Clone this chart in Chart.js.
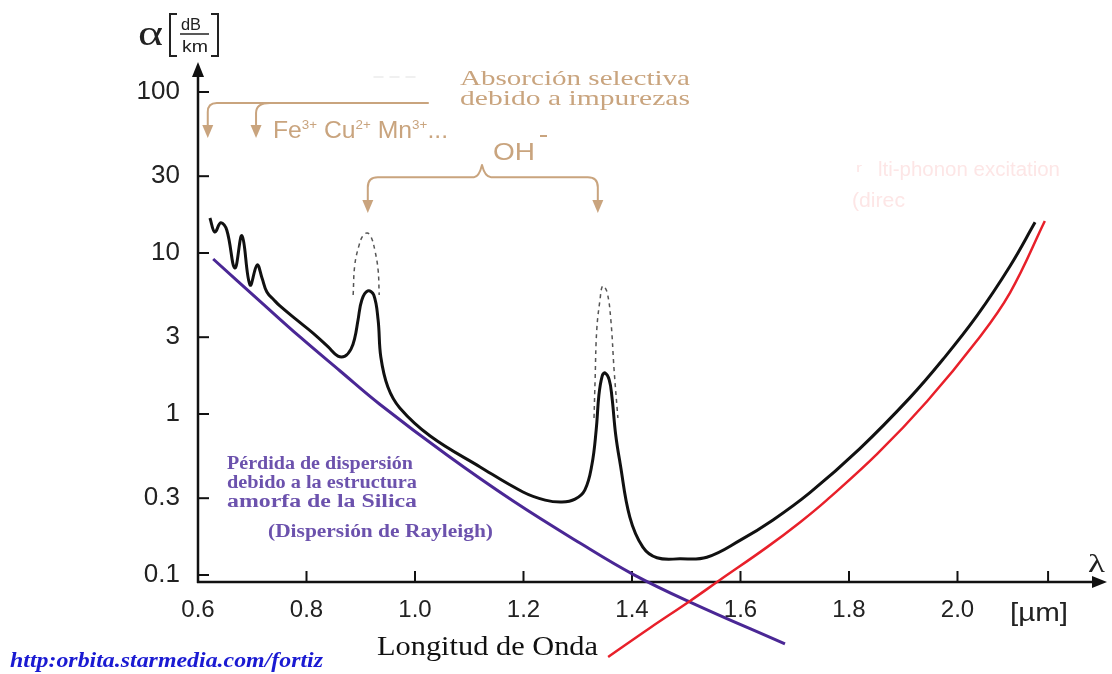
<!DOCTYPE html>
<html><head><meta charset="utf-8">
<script src="https://cdn.jsdelivr.net/npm/chart.js@4.4.1/dist/chart.umd.min.js"></script>
<style>html,body{margin:0;padding:0;background:#fff}#wrap{width:1112px;height:674px}</style>
</head><body><div id="wrap"><canvas id="c" width="1112" height="674"></canvas></div>
<script>
// ---- axis definitions ----
const xTicks = [0.6, 0.8, 1.0, 1.2, 1.4, 1.6, 1.8, 2.0];
const yTicks = [0.1, 0.3, 1, 3, 10, 30, 100];
const unitTick = 2.167;
const xRange = [0.6, 2.2756];
const yRange = [0.0905, 153.6];

// ---- total attenuation (black) ----
const lambdaTotal = [0.622,0.631,0.642,0.653,0.668,0.681,0.696,0.709,0.718,0.727,0.740,0.751,0.782,0.812,0.840,0.858,0.871,0.882,0.889,0.895,0.902,0.913,0.924,0.932,0.937,0.950,0.972,1.028,1.120,1.199,1.240,1.271,1.295,1.313,1.326,1.334,1.339,1.345,1.350,1.358,1.363,1.370,1.378,1.396,1.420,1.446,1.488,1.538,1.599,1.660,1.728,1.820,1.912,1.973,2.036,2.097,2.143];
const alphaTotal = [16.5,13.5,15.4,13.9,8.07,12.8,6.33,8.43,7.0,5.72,5.11,4.69,3.84,3.18,2.61,2.29,2.29,2.53,2.97,3.84,5.11,5.81,5.48,3.84,2.26,1.47,1.09,0.730,0.469,0.328,0.292,0.284,0.296,0.337,0.482,0.796,1.31,1.72,1.80,1.63,1.28,0.741,0.497,0.229,0.149,0.128,0.126,0.129,0.164,0.220,0.325,0.610,1.26,2.18,4.08,8.30,15.5];

// ---- OH- peaks with higher OH content (dashed) ----
const lambdaOH1 = [0.886,0.889,0.897,0.904,0.912,0.919,0.926,0.932,0.934];
const alphaOH1  = [5.48,8.42,11.2,12.8,13.3,12.6,10.4,7.84,5.48];
const lambdaOH2 = [1.330,1.332,1.335,1.341,1.346,1.354,1.361,1.367,1.374];
const alphaOH2  = [0.944,1.63,3.32,5.11,6.24,5.72,3.84,1.88,0.944];

// ---- Rayleigh scattering (purple) ----
const lambdaRay = [0.628,0.714,0.788,0.862,0.935,1.059,1.181,1.304,1.402,1.507,1.682];
const alphaRay  = [9.18,5.03,3.01,1.85,1.15,0.556,0.288,0.158,0.101,0.0679,0.0373];

// ---- infrared absorption (red) ----
const lambdaIR = [1.356,1.433,1.507,1.562,1.649,1.710,1.759,1.852,1.944,2.036,2.097,2.161];
const alphaIR  = [0.031,0.0469,0.069,0.0931,0.149,0.213,0.292,0.565,1.20,2.86,5.68,15.8];

// ---- annotation anchors (data units) ----
const impurityBracket = {lineAlpha: 85.5, tipAlpha: 51.8, end: 1.024, arrows: [0.618, 0.707]};
const ohBracket = {lineAlpha: 29.6, tipAlpha: 17.7, left: 0.913, right: 1.337, notch: 1.1235, apexAlpha: 35.2};

const pts = (xs, ys) => xs.map((x, i) => ({x, y: ys[i]}));

const TAN = '#c9a47e';
const PURPLE_TXT = '#6c52ad';

function drawText(ctx, txt, x, y, font, color, width) {
  ctx.save();
  ctx.font = font;
  ctx.fillStyle = color;
  ctx.textAlign = 'left';
  ctx.textBaseline = 'alphabetic';
  const w = ctx.measureText(txt).width;
  const sx = width ? width / w : 1;
  ctx.translate(x, y);
  ctx.scale(sx, 1);
  ctx.fillText(txt, 0, 0);
  ctx.restore();
}
function drawRuns(ctx, runs, x, y, family, color, width) {
  ctx.save();
  ctx.fillStyle = color;
  ctx.textBaseline = 'alphabetic';
  let total = 0;
  runs.forEach(r => { ctx.font = r[1] + 'px ' + family; total += ctx.measureText(r[0]).width; });
  const sx = width / total;
  ctx.translate(x, y);
  ctx.scale(sx, 1);
  let cx = 0;
  runs.forEach(r => { ctx.font = r[1] + 'px ' + family; ctx.fillText(r[0], cx, -r[2]); cx += ctx.measureText(r[0]).width; });
  ctx.restore();
}
function arrowDown(ctx, x, y) {
  ctx.beginPath(); ctx.moveTo(x, y); ctx.lineTo(x - 5.5, y - 13); ctx.lineTo(x + 5.5, y - 13); ctx.closePath(); ctx.fill();
}

const decor = {
  id: 'decor',
  beforeDatasetsDraw(chart) {
    const ctx = chart.ctx, a = chart.chartArea;
    const xs = chart.scales.x, ys = chart.scales.y;
    ctx.save();
    ctx.strokeStyle = '#111'; ctx.fillStyle = '#111'; ctx.lineWidth = 2.5;
    ctx.beginPath(); ctx.moveTo(a.left, a.bottom + 1); ctx.lineTo(a.left, a.top + 12); ctx.stroke();
    ctx.beginPath(); ctx.moveTo(a.left, a.top); ctx.lineTo(a.left - 6, a.top + 15); ctx.lineTo(a.left + 6, a.top + 15); ctx.closePath(); ctx.fill();
    ctx.beginPath(); ctx.moveTo(a.left - 1, a.bottom); ctx.lineTo(a.right - 12, a.bottom); ctx.stroke();
    ctx.beginPath(); ctx.moveTo(a.right, a.bottom); ctx.lineTo(a.right - 15, a.bottom - 6); ctx.lineTo(a.right - 15, a.bottom + 6); ctx.closePath(); ctx.fill();
    ctx.lineWidth = 2;
    yTicks.forEach(v => { const y = ys.getPixelForValue(v); ctx.beginPath(); ctx.moveTo(a.left, y); ctx.lineTo(a.left + 11, y); ctx.stroke(); });
    xTicks.concat([unitTick]).forEach(v => { if (v <= xRange[0]) return; const x = xs.getPixelForValue(v); ctx.beginPath(); ctx.moveTo(x, a.bottom); ctx.lineTo(x, a.bottom - 11); ctx.stroke(); });
    ctx.restore();
  },
  afterDatasetsDraw(chart) {
    const ctx = chart.ctx;
    const X = v => chart.scales.x.getPixelForValue(v);
    const Y = v => chart.scales.y.getPixelForValue(v);
    ctx.save();
    ctx.lineCap = 'round'; ctx.lineJoin = 'round';
    // impurity bracket
    ctx.strokeStyle = TAN; ctx.fillStyle = TAN; ctx.lineWidth = 2;
    {
      const b = impurityBracket, ly = Y(b.lineAlpha), ty = Y(b.tipAlpha);
      const xa = X(b.arrows[0]), xb = X(b.arrows[1]), xe = X(b.end);
      ctx.beginPath(); ctx.moveTo(xe, ly); ctx.lineTo(xa + 9, ly); ctx.quadraticCurveTo(xa, ly, xa, ly + 9); ctx.lineTo(xa, ty - 11); ctx.stroke();
      ctx.beginPath(); ctx.moveTo(xb + 14, ly); ctx.quadraticCurveTo(xb, ly, xb, ly + 10); ctx.lineTo(xb, ty - 11); ctx.stroke();
      arrowDown(ctx, xa, ty); arrowDown(ctx, xb, ty);
    }
    // OH bracket
    {
      const b = ohBracket, ly = Y(b.lineAlpha), ty = Y(b.tipAlpha);
      const xl = X(b.left), xr = X(b.right), xn = X(b.notch), ay = Y(b.apexAlpha);
      ctx.beginPath(); ctx.moveTo(xl, ty - 11); ctx.lineTo(xl, ly + 10); ctx.quadraticCurveTo(xl, ly, xl + 10, ly);
      ctx.lineTo(xn - 8, ly); ctx.quadraticCurveTo(xn - 3, ly, xn, ay); ctx.quadraticCurveTo(xn + 3, ly, xn + 9, ly);
      ctx.lineTo(xr - 10, ly); ctx.quadraticCurveTo(xr, ly, xr, ly + 10); ctx.lineTo(xr, ty - 11); ctx.stroke();
      arrowDown(ctx, xl, ty); arrowDown(ctx, xr, ty);
    }
    // faint dashes at top
    ctx.strokeStyle = '#ececec'; ctx.lineWidth = 1.5; ctx.setLineDash([9, 7]);
    ctx.beginPath(); ctx.moveTo(374, 77); ctx.lineTo(422, 77); ctx.stroke(); ctx.setLineDash([]);
    ctx.restore();

    // texts
    const serif = '"Liberation Serif", "DejaVu Serif", serif';
    const sans = '"Liberation Sans", Arial, sans-serif';
    drawText(ctx, 'Absorción selectiva', 460, 85, '22px ' + serif, TAN, 230);
    drawText(ctx, 'debido a impurezas', 460, 105, '22px ' + serif, TAN, 230);
    drawRuns(ctx, [['Fe',24,0],['3+',13,9],[' Cu',24,0],['2+',13,9],[' Mn',24,0],['3+',13,9],['...',24,0]], 273, 138, sans, TAN, 175);
    drawText(ctx, 'OH', 493, 160, '24px ' + sans, TAN, 42);
    ctx.save(); ctx.strokeStyle = TAN; ctx.lineWidth = 2; ctx.beginPath(); ctx.moveTo(540, 136); ctx.lineTo(547, 136); ctx.stroke(); ctx.restore();

    // faded IR text
    const faint = '#fde6e6';
    drawText(ctx, 'r', 856, 172, '12px ' + sans, faint, 6);
    drawText(ctx, 'lti-phonon excitation', 878, 176, '20px ' + sans, faint, 182);
    drawText(ctx, '(direc', 852, 207, '20px ' + sans, faint, 53);

    // Rayleigh text
    const pb = 'bold 18px ' + serif;
    drawText(ctx, 'Pérdida de dispersión', 227, 469, pb, PURPLE_TXT, 186);
    drawText(ctx, 'debido a la estructura', 227, 488, pb, PURPLE_TXT, 190);
    drawText(ctx, 'amorfa de la Silica', 227, 507, pb, PURPLE_TXT, 190);
    drawText(ctx, '(Dispersión de Rayleigh)', 268, 537, pb, PURPLE_TXT, 225);

    // axis titles
    drawText(ctx, 'α', 138, 45, '36px ' + serif, '#222', 25);
    ctx.save(); ctx.strokeStyle = '#222'; ctx.lineWidth = 2;
    ctx.beginPath(); ctx.moveTo(177, 14); ctx.lineTo(170, 14); ctx.lineTo(170, 56); ctx.lineTo(177, 56); ctx.stroke();
    ctx.beginPath(); ctx.moveTo(211, 14); ctx.lineTo(218, 14); ctx.lineTo(218, 56); ctx.lineTo(211, 56); ctx.stroke();
    ctx.lineWidth = 1.5; ctx.beginPath(); ctx.moveTo(180, 34); ctx.lineTo(209, 34); ctx.stroke();
    ctx.restore();
    drawText(ctx, 'dB', 181, 30, '16px ' + sans, '#222', 20);
    drawText(ctx, 'km', 182, 52, '17px ' + sans, '#222', 26);
    drawText(ctx, 'λ', 1088, 572, '26px ' + serif, '#222', 17);
    drawText(ctx, '[µm]', 1010, 621, '26px ' + sans, '#222', 58);
    drawText(ctx, 'Longitud de Onda', 377, 655, '27px ' + serif, '#111', 221);
    drawText(ctx, 'http:orbita.starmedia.com/fortiz', 10, 667, 'bold italic 20px ' + serif, '#1a1ad2', 313);
  }
};

new Chart(document.getElementById('c'), {
  type: 'line',
  data: {
    datasets: [
      {data: pts(lambdaTotal, alphaTotal), borderColor: '#111', borderWidth: 3, order: 1},
      {data: pts(lambdaIR, alphaIR), borderColor: '#e8202a', borderWidth: 2.5, order: 2},
      {data: pts(lambdaRay, alphaRay), borderColor: '#4a2795', borderWidth: 3, order: 3},
      {data: pts(lambdaOH1, alphaOH1), borderColor: '#555', borderWidth: 1.5, borderDash: [4, 4], order: 4},
      {data: pts(lambdaOH2, alphaOH2), borderColor: '#555', borderWidth: 1.5, borderDash: [4, 4], order: 4}
    ]
  },
  options: {
    responsive: false,
    animation: false,
    devicePixelRatio: 1,
    layout: {padding: {top: 62, right: 5, left: 0, bottom: 0}},
    elements: {point: {radius: 0}, line: {tension: 0.4, fill: false, capBezierPoints: false}},
    datasets: {line: {clip: false}},
    plugins: {legend: {display: false}, tooltip: {enabled: false}},
    scales: {
      x: {
        type: 'linear', min: xRange[0], max: xRange[1],
        afterBuildTicks: s => { s.ticks = xTicks.map(v => ({value: v})); },
        afterFit: s => { s.height = 92; },
        grid: {display: false, drawTicks: false}, border: {display: false},
        ticks: {color: '#222', padding: 14, maxRotation: 0, autoSkip: false,
          font: {family: '"Liberation Sans", Arial, sans-serif', size: 24},
          callback: v => Number(v).toFixed(1)}
      },
      y: {
        type: 'logarithmic', min: yRange[0], max: yRange[1],
        afterBuildTicks: s => { s.ticks = yTicks.map(v => ({value: v})); },
        afterFit: s => { s.width = 198; },
        grid: {display: false, drawTicks: false}, border: {display: false},
        ticks: {color: '#222', padding: 18, autoSkip: false,
          font: {family: '"Liberation Sans", Arial, sans-serif', size: 26},
          callback: v => String(v)}
      }
    }
  },
  plugins: [decor]
});
</script>
</body></html>
